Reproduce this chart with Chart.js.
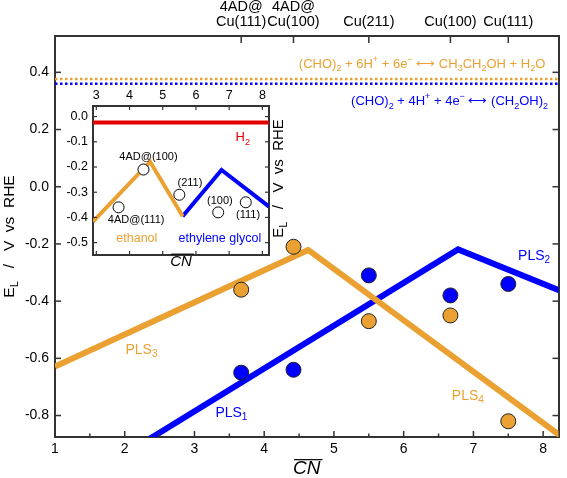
<!DOCTYPE html>
<html><head><meta charset="utf-8">
<script src="https://cdn.jsdelivr.net/npm/chart.js@4/dist/chart.umd.min.js"></script>
<style>
html,body{margin:0;padding:0;background:#fff;}
#wrap{position:relative;width:567px;height:478px;overflow:hidden;}
#main{position:absolute;left:0;top:0;}
#inset{position:absolute;left:50px;top:84px;}
</style></head>
<body><div id="wrap"><canvas id="main" width="567" height="478"></canvas><canvas id="inset" width="245" height="190"></canvas></div>
<script>
// ---------------- data ----------------
const siteCN = [3.67, 4.42, 5.5, 6.67, 7.5];
const siteTopLabels = [["4AD@","Cu(111)"],["4AD@","Cu(100)"],"Cu(211)","Cu(100)","Cu(111)"];
const ethanolEL = [-0.36, -0.21, -0.47, -0.45, -0.82];
const glycolEL  = [-0.65, -0.64, -0.31, -0.38, -0.34];
const pls34CN = [1, 4.63, 8.3];
const pls34EL = [-0.629, -0.221, -0.88];
const pls12CN = [2.3, 6.78, 8.3];
const pls12EL = [-0.89, -0.219, -0.369];
const eqEthanolEL = 0.377;
const eqGlycolEL  = 0.36;
const xTicks = [1,2,3,4,5,6,7,8];
const yTicks = [-0.8,-0.6,-0.4,-0.2,0.0,0.2,0.4];

const insetSiteLabels = ["4AD@(111)","4AD@(100)","(211)","(100)","(111)"];
const insetSiteEL = [-0.36, -0.21, -0.31, -0.38, -0.34];
const insetEthanolCN = [2.9, 4.62, 5.6];
const insetEthanolEL = [-0.417, -0.179, -0.395];
const insetGlycolCN = [5.6, 6.77, 8.2];
const insetGlycolEL = [-0.395, -0.212, -0.357];
const h2EL = -0.023;
const insetXTicks = [3,4,5,6,7,8];
const insetYTicks = [0.0,-0.1,-0.2,-0.3,-0.4,-0.5];

// ---------------- style ----------------
const FAMILY = "'Liberation Sans', Arial, Helvetica, sans-serif";
const ORANGE = '#EAA132', BLUE = '#0000FF', RED = '#E30000', FRAME = '#333333';
Chart.defaults.font.family = FAMILY;
Chart.defaults.color = '#000';

function richParts(s){
  const parts=[]; let i=0;
  while(i<s.length){
    const c=s[i];
    if(c==='_'||c==='^'){
      let t;
      if(s[i+1]==='{'){const j=s.indexOf('}',i); t=s.slice(i+2,j); i=j+1;}
      else {t=s[i+1]; i+=2;}
      parts.push({t,k:c==='_'?'sub':'sup'});
    } else {
      let j=i; while(j<s.length && s[j]!=='_' && s[j]!=='^') j++;
      parts.push({t:s.slice(i,j),k:'n'}); i=j;
    }
  }
  return parts;
}
function drawRich(ctx,s,x,y,o){
  const size=o.size, style=o.style||'';
  const parts=richParts(s);
  const fontFor=k=>`${style} ${k==='n'?size:Math.round(size*0.72)}px ${FAMILY}`;
  let w=0; parts.forEach(p=>{ctx.font=fontFor(p.k); p.w=ctx.measureText(p.t).width; w+=p.w;});
  let cx = o.align==='right'? x-w : o.align==='center'? x-w/2 : x;
  ctx.fillStyle=o.color||'#000'; ctx.textBaseline='middle'; ctx.textAlign='left';
  parts.forEach(p=>{ctx.font=fontFor(p.k);
    const dy=p.k==='sub'?size*0.33:p.k==='sup'?-size*0.38:0;
    ctx.fillText(p.t,cx,y+dy); cx+=p.w;});
  return w;
}
function overline(ctx, chart, scale, size){
  // axis title "CN" drawn by the library; add its overline
  const t = scale.options.title;
  ctx.font = `italic ${size}px ${FAMILY}`;
  const w = ctx.measureText(t.text).width;
  const cx = (scale.left+scale.right)/2;
  const cy = scale.bottom - (t.padding.bottom||0) - size*(t.font.lineHeight||1.2)/2;
  const oy = cy - size*0.36 - 2;
  ctx.strokeStyle='#000'; ctx.lineWidth=Math.max(1,size/16);
  ctx.beginPath(); ctx.moveTo(cx-w/2+1, oy); ctx.lineTo(cx+w/2+2, oy); ctx.stroke();
}
const pts=(xs,ys)=>xs.map((x,i)=>({x,y:ys[i]}));
const gridOff={display:false,drawTicks:false};
const border={display:true,color:FRAME,width:2};

// ---------------- main chart ----------------
const X_MIN=1, X_MAX=8.22, Y_MIN=-0.875, Y_MAX=0.527;
const mainDecor={
  id:'mainDecor',
  afterDraw(chart){
    const {ctx,chartArea:a,scales:s}=chart;
    ctx.save();
    ctx.strokeStyle=FRAME; ctx.lineWidth=1.5;
    const seg=(x0,y0,x1,y1)=>{ctx.beginPath();ctx.moveTo(x0,y0);ctx.lineTo(x1,y1);ctx.stroke();};
    xTicks.forEach(v=>{const p=s.x.getPixelForValue(v); seg(p,a.bottom,p,a.bottom-6);
      if(v+0.5<X_MAX){const q=s.x.getPixelForValue(v+0.5); seg(q,a.bottom,q,a.bottom-3.5);}});
    siteCN.forEach(v=>{const p=s.x2.getPixelForValue(v); seg(p,a.top,p,a.top+7);});
    yTicks.forEach(v=>{const p=s.y.getPixelForValue(v); seg(a.left,p,a.left+6,p); seg(a.right,p,a.right-6,p);});
    overline(ctx,chart,s.x,19);
    // annotations
    const X=v=>s.x.getPixelForValue(v), Y=v=>s.y.getPixelForValue(v);
    drawRich(ctx,"(CHO)_2 + 6H^+ + 6e^− ⟷ CH_3CH_2OH + H_2O",X(8.03),Y(0.429),{size:13,color:ORANGE,align:'right'});
    drawRich(ctx,"(CHO)_2 + 4H^+ + 4e^− ⟷ (CH_2OH)_2",X(8.07),Y(0.297),{size:13,color:BLUE,align:'right'});
    drawRich(ctx,"PLS_3",X(2.01),Y(-0.571),{size:14,color:ORANGE});
    drawRich(ctx,"PLS_1",X(3.3),Y(-0.791),{size:14,color:BLUE});
    drawRich(ctx,"PLS_4",X(6.69),Y(-0.732),{size:14,color:ORANGE});
    drawRich(ctx,"PLS_2",X(7.64),Y(-0.242),{size:14,color:BLUE});
    // y axis title
    ctx.translate(10,(a.top+a.bottom)/2); ctx.rotate(-Math.PI/2);
    drawRich(ctx,"E_L   /   V  vs  RHE",0,0,{size:15.5,color:'#000',align:'center'});
    ctx.restore();
  }
};

new Chart(document.getElementById('main'),{
  type:'scatter',
  data:{datasets:[
    {label:'ethanol sites',data:pts(siteCN,ethanolEL),backgroundColor:ORANGE,borderColor:'#222',borderWidth:1,pointRadius:7.5,order:1},
    {label:'ethylene glycol sites',data:pts(siteCN,glycolEL),backgroundColor:BLUE,borderColor:'#222',borderWidth:1,pointRadius:7.5,order:1},
    {label:'PLS3/PLS4',data:pts(pls34CN,pls34EL),showLine:true,borderColor:ORANGE,borderWidth:6,pointRadius:0,borderJoinStyle:'miter',clip:0,order:2},
    {label:'PLS1/PLS2',data:pts(pls12CN,pls12EL),showLine:true,borderColor:BLUE,borderWidth:6,pointRadius:0,borderJoinStyle:'miter',clip:0,order:2},
    {label:'ethanol eq',data:pts([X_MIN,X_MAX],[eqEthanolEL,eqEthanolEL]),showLine:true,borderColor:ORANGE,borderWidth:2.5,borderDash:[2.5,2.5],pointRadius:0,clip:0,order:3},
    {label:'glycol eq',data:pts([X_MIN,X_MAX],[eqGlycolEL,eqGlycolEL]),showLine:true,borderColor:BLUE,borderWidth:2.5,borderDash:[2.5,2.5],pointRadius:0,clip:0,order:3}
  ]},
  options:{
    responsive:false,animation:false,devicePixelRatio:1,
    layout:{padding:0},
    plugins:{legend:{display:false},tooltip:{enabled:false}},
    scales:{
      x:{type:'linear',position:'bottom',min:X_MIN,max:X_MAX,
        afterBuildTicks:s=>{s.ticks=xTicks.map(v=>({value:v}));},
        ticks:{font:{size:14},padding:4,color:'#000',autoSkip:false,maxRotation:0,callback:v=>String(v)},
        grid:gridOff,border,
        title:{display:true,text:'CN',font:{size:19,style:'italic',lineHeight:1},padding:{top:0,bottom:0},color:'#000'},
        afterFit:s=>{s.height=41;}},
      x2:{type:'linear',position:'top',min:X_MIN,max:X_MAX,
        afterBuildTicks:s=>{s.ticks=siteCN.map(v=>({value:v}));},
        ticks:{font:{size:14.5,lineHeight:1.07},padding:6,color:'#000',autoSkip:false,maxRotation:0,callback:(v,i)=>siteTopLabels[i]},
        grid:gridOff,border,afterFit:s=>{s.height=36;}},
      y:{type:'linear',position:'left',min:Y_MIN,max:Y_MAX,
        afterBuildTicks:s=>{s.ticks=yTicks.map(v=>({value:v}));},
        ticks:{font:{size:14},padding:6,color:'#000',callback:v=>v.toFixed(1)},
        grid:gridOff,border,afterFit:s=>{s.width=55;}},
      y2:{type:'linear',position:'right',min:Y_MIN,max:Y_MAX,
        ticks:{display:false},grid:gridOff,border,afterFit:s=>{s.width=4;}}
    }
  },
  plugins:[mainDecor]
});

// ---------------- inset chart ----------------
const IX_MIN=2.9, IX_MAX=8.2, IY_MIN=-0.549, IY_MAX=0.042;
const insetDecor={
  id:'insetDecor',
  beforeDraw(chart){const {ctx,chartArea:a}=chart; ctx.save(); ctx.fillStyle='#fff'; ctx.fillRect(a.left,a.top,a.width,a.height); ctx.restore();},
  afterDraw(chart){
    const {ctx,chartArea:a,scales:s}=chart;
    ctx.save();
    ctx.strokeStyle=FRAME; ctx.lineWidth=1.2;
    const seg=(x0,y0,x1,y1)=>{ctx.beginPath();ctx.moveTo(x0,y0);ctx.lineTo(x1,y1);ctx.stroke();};
    insetXTicks.forEach(v=>{const p=s.x.getPixelForValue(v); seg(p,a.bottom,p,a.bottom-4); seg(p,a.top,p,a.top+4);});
    insetYTicks.forEach(v=>{const p=s.y.getPixelForValue(v); seg(a.left,p,a.left+4,p); seg(a.right,p,a.right-4,p);});
    overline(ctx,chart,s.x,15);
    const X=v=>s.x.getPixelForValue(v), Y=v=>s.y.getPixelForValue(v);
    const lab=[[4.2,-0.409],[4.57,-0.161],[5.82,-0.265],[6.72,-0.334],[7.57,-0.391]];
    insetSiteLabels.forEach((t,i)=>drawRich(ctx,t,X(lab[i][0]),Y(lab[i][1]),{size:11,color:'#000',align:'center'}));
    drawRich(ctx,"H_2",X(7.41),Y(-0.084),{size:13,color:RED,align:'center'});
    drawRich(ctx,"ethanol",X(4.22),Y(-0.483),{size:12.5,color:ORANGE,align:'center'});
    drawRich(ctx,"ethylene glycol",X(6.72),Y(-0.483),{size:12.5,color:BLUE,align:'center'});
    ctx.translate(a.right+10,(a.top+a.bottom)/2 - 2); ctx.rotate(-Math.PI/2);
    drawRich(ctx,"E_L   /   V  vs  RHE",0,0,{size:15,color:'#000',align:'center'});
    ctx.restore();
  }
};
new Chart(document.getElementById('inset'),{
  type:'scatter',
  data:{datasets:[
    {label:'sites',data:pts(siteCN,insetSiteEL),backgroundColor:'#fff',borderColor:'#000',borderWidth:1,pointRadius:5.5,order:1},
    {label:'ethanol',data:pts(insetEthanolCN,insetEthanolEL),showLine:true,borderColor:ORANGE,borderWidth:4,pointRadius:0,borderJoinStyle:'miter',clip:0,order:2},
    {label:'ethylene glycol',data:pts(insetGlycolCN,insetGlycolEL),showLine:true,borderColor:BLUE,borderWidth:4,pointRadius:0,borderJoinStyle:'miter',clip:0,order:2},
    {label:'H2',data:pts([IX_MIN,IX_MAX],[h2EL,h2EL]),showLine:true,borderColor:RED,borderWidth:4,pointRadius:0,clip:0,order:2}
  ]},
  options:{
    responsive:false,animation:false,devicePixelRatio:1,
    layout:{padding:0},
    plugins:{legend:{display:false},tooltip:{enabled:false}},
    scales:{
      x:{type:'linear',position:'bottom',min:IX_MIN,max:IX_MAX,ticks:{display:false},grid:gridOff,border,
        title:{display:true,text:'CN',font:{size:15,style:'italic',lineHeight:1},padding:{top:0,bottom:5},color:'#000'},
        afterFit:s=>{s.height=19;}},
      xt:{type:'linear',position:'top',min:IX_MIN,max:IX_MAX,
        afterBuildTicks:s=>{s.ticks=insetXTicks.map(v=>({value:v}));},
        ticks:{font:{size:12.5},padding:3,color:'#000',autoSkip:false,maxRotation:0,callback:v=>String(v)},
        grid:gridOff,border,afterFit:s=>{s.height=22;}},
      y:{type:'linear',position:'left',min:IY_MIN,max:IY_MAX,
        afterBuildTicks:s=>{s.ticks=insetYTicks.map(v=>({value:v}));},
        ticks:{font:{size:12.5},padding:5,color:'#000',callback:v=>v.toFixed(1)},
        grid:gridOff,border,afterFit:s=>{s.width=43;}},
      yr:{type:'linear',position:'right',min:IY_MIN,max:IY_MAX,ticks:{display:false},grid:gridOff,border,afterFit:s=>{s.width=26;}}
    }
  },
  plugins:[insetDecor]
});
</script>
</body></html>
